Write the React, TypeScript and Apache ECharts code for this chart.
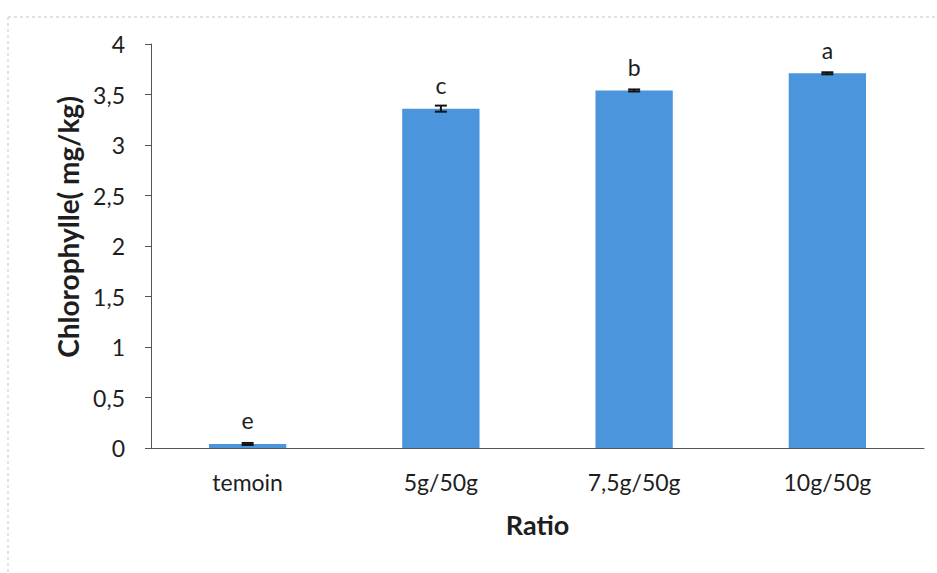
import React, { useEffect, useRef } from "react";
import * as echarts from "echarts";

const categories = ["temoin", "5g/50g", "7,5g/50g", "10g/50g"];
const values = [0.04, 3.36, 3.54, 3.71];
const errors = [0.01, 0.03, 0.01, 0.01];
const letters = ["e", "c", "b", "a"];
const yTicks = [0, 0.5, 1, 1.5, 2, 2.5, 3, 3.5, 4];

const FONT = "Lato, 'Open Sans', sans-serif";

export default function App() {
  const ref = useRef<HTMLDivElement>(null);
  useEffect(() => {
    if (!ref.current) return;
    const chart = echarts.init(ref.current, undefined, { renderer: "svg" });
    chart.setOption({
      animation: false,
      backgroundColor: "#ffffff",
      grid: { left: 151, right: 13, top: 44, bottom: 125 },
      graphic: [
        { type: "line", shape: { x1: 8, y1: 17, x2: 937, y2: 17 }, style: { stroke: "#c4c4c4", lineWidth: 1, lineDash: [3, 3] } },
        { type: "line", shape: { x1: 8, y1: 17, x2: 8, y2: 573 }, style: { stroke: "#c4c4c4", lineWidth: 1, lineDash: [3, 3] } },
      ],
      xAxis: {
        type: "category",
        data: categories,
        name: "Ratio",
        nameLocation: "middle",
        nameGap: 63,
        nameTextStyle: { fontFamily: FONT, fontSize: 27, fontWeight: "bold", color: "#1e1e1e" },
        axisLine: { lineStyle: { color: "#555", width: 1 } },
        axisTick: { show: false },
        axisLabel: { fontFamily: FONT, fontSize: 23, color: "#1e1e1e", margin: 22 },
      },
      yAxis: {
        type: "value",
        min: 0,
        max: 4,
        interval: 0.5,
        name: "Chlorophylle( mg/kg)",
        nameLocation: "middle",
        nameGap: 69,
        nameTextStyle: {
          fontFamily: FONT,
          fontSize: 28,
          fontWeight: "bold",
          color: "#1e1e1e",
          padding: [0, 0, 0, 38],
        },
        axisLine: { show: true, lineStyle: { color: "#555", width: 1 } },
        axisTick: { show: true, length: 6, lineStyle: { color: "#555" } },
        splitLine: { show: false },
        axisLabel: {
          fontFamily: FONT,
          fontSize: 23,
          color: "#1e1e1e",
          margin: 26,
          customValues: yTicks,
          formatter: (v: number) => String(v).replace(".", ","),
        },
      },
      series: [
        {
          type: "bar",
          data: values,
          barWidth: "40%",
          itemStyle: { color: "#4a95dc" },
          label: {
            show: true,
            position: "top",
            distance: 12,
            formatter: (p: any) => letters[p.dataIndex],
            fontFamily: FONT,
            fontSize: 23,
            color: "#1e1e1e",
          },
          z: 2,
        },
        {
          type: "custom",
          data: values.map((v, i) => [i, v - errors[i], v + errors[i]]),
          z: 5,
          renderItem: (params: any, api: any) => {
            const x = api.value(0);
            const lo = api.coord([x, api.value(1)]);
            const hi = api.coord([x, api.value(2)]);
            const hw = 6;
            const style = { stroke: "#111", lineWidth: 2 };
            return {
              type: "group",
              children: [
                { type: "line", shape: { x1: lo[0], y1: lo[1], x2: hi[0], y2: hi[1] }, style },
                { type: "line", shape: { x1: lo[0] - hw, y1: lo[1], x2: lo[0] + hw, y2: lo[1] }, style },
                { type: "line", shape: { x1: hi[0] - hw, y1: hi[1], x2: hi[0] + hw, y2: hi[1] }, style },
              ],
            };
          },
        },
      ],
    });
    return () => chart.dispose();
  }, []);
  return (
    <div
      ref={ref}
      style={{ position: "fixed", left: 0, top: 0, width: 937, height: 573 }}
    />
  );
}
